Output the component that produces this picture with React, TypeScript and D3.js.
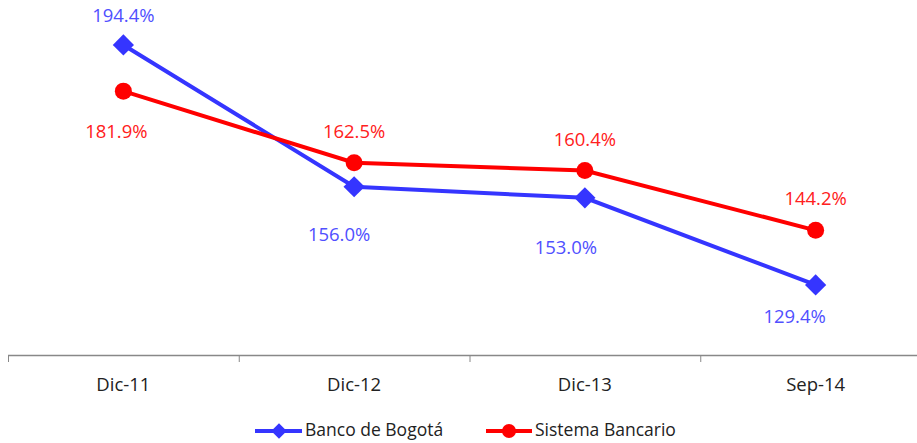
import React from "react";
import * as d3 from "d3";

const categories = ["Dic-11", "Dic-12", "Dic-13", "Sep-14"];
const bancoBogota = [194.4, 156.0, 153.0, 129.4];
const sistemaBancario = [181.9, 162.5, 160.4, 144.2];

// label placement per point (pixels from marker)
const blueLabelOffsets = [
  [0, -28],
  [-15, 49],
  [-19, 51],
  [-21, 33],
];
const redLabelOffsets = [
  [-7, 42],
  [0, -30],
  [0, -29],
  [0, -30],
];

const width = 917;
const height = 443;
const BLUE = "#3535ff";
const RED = "#ff0000";
const FONT = "'Open Sans', 'Liberation Sans', sans-serif";

const App = () => {
  const x = d3.scaleBand().domain(categories).range([8, 931]);
  const y = d3.scaleLinear().domain([110, 200]).range([356.6, 24.3]);
  const cx = (c: string) => (x(c) as number) + x.bandwidth() / 2;

  const line = d3
    .line<number>()
    .x((_, i) => cx(categories[i]))
    .y((d) => y(d));

  const tickXs = categories.map((c) => x(c) as number);

  return (
    <svg
      width={width}
      height={height}
      style={{ position: "absolute", left: 0, top: 0, background: "#fff" }}
    >
      {/* x axis */}
      <line x1={8} x2={width} y1={355.5} y2={355.5} stroke="#888" strokeWidth={1.5} />
      {tickXs.map((tx) => (
        <line key={tx} x1={tx + 0.5} x2={tx + 0.5} y1={355} y2={362} stroke="#888" strokeWidth={1} />
      ))}
      {categories.map((c) => (
        <text
          key={c}
          x={cx(c)}
          y={391}
          textAnchor="middle"
          fontFamily={FONT}
          fontSize={18.5}
          fill="#222"
        >
          {c}
        </text>
      ))}

      {/* series lines */}
      <path d={line(bancoBogota) || ""} fill="none" stroke={BLUE} strokeWidth={4} />
      <path d={line(sistemaBancario) || ""} fill="none" stroke={RED} strokeWidth={4} />

      {bancoBogota.map((v, i) => {
        const px = cx(categories[i]);
        const py = y(v);
        return (
          <g key={"b" + i}>
            <rect
              x={px - 7.5}
              y={py - 7.5}
              width={15}
              height={15}
              fill={BLUE}
              transform={`rotate(45 ${px} ${py})`}
            />
            <text
              x={px + blueLabelOffsets[i][0]}
              y={py + blueLabelOffsets[i][1]}
              textAnchor="middle"
              dominantBaseline="middle"
              fontFamily={FONT}
              fontSize={18.5}
              fill="#5050ff"
            >
              {v.toFixed(1)}%
            </text>
          </g>
        );
      })}

      {sistemaBancario.map((v, i) => {
        const px = cx(categories[i]);
        const py = y(v);
        return (
          <g key={"r" + i}>
            <circle cx={px} cy={py} r={8.5} fill={RED} />
            <text
              x={px + redLabelOffsets[i][0]}
              y={py + redLabelOffsets[i][1]}
              textAnchor="middle"
              dominantBaseline="middle"
              fontFamily={FONT}
              fontSize={18.5}
              fill="#ff2020"
            >
              {v.toFixed(1)}%
            </text>
          </g>
        );
      })}

      {/* legend */}
      <g>
        <line x1={255} x2={302} y1={431} y2={431} stroke={BLUE} strokeWidth={4} />
        <rect x={273.5} y={425.5} width={11} height={11} fill={BLUE} transform="rotate(45 279 431)" />
        <text x={305} y={436} fontFamily={FONT} fontSize={17.5} fill="#222">
          Banco de Bogotá
        </text>
        <line x1={486} x2={532} y1={431} y2={431} stroke={RED} strokeWidth={4} />
        <circle cx={509} cy={431} r={7} fill={RED} />
        <text x={535} y={436} fontFamily={FONT} fontSize={17.5} fill="#222">
          Sistema Bancario
        </text>
      </g>
    </svg>
  );
};

export default App;
